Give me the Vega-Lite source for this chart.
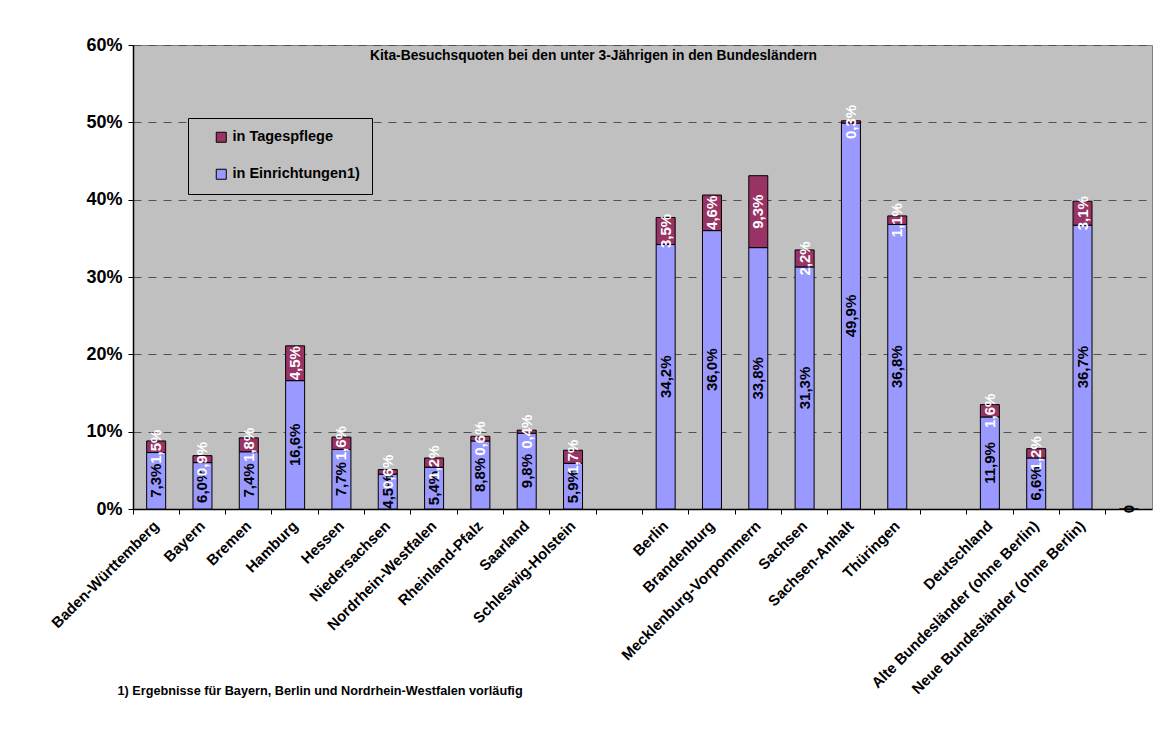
{
  "$schema": "https://vega.github.io/schema/vega-lite/v6.json",
  "width": 1019,
  "height": 464,
  "autosize": {"type": "none"},
  "padding": {"left": 133, "top": 45, "right": 19, "bottom": 220},
  "background": "white",
  "config": {
    "locale": {"number": {"decimal": ",", "thousands": ".", "grouping": [3], "currency": ["", " €"]}},
    "view": {"fill": "#C0C0C0", "stroke": "#808080", "strokeWidth": 1},
    "font": "Liberation Sans"
  },
  "title": {
    "text": "Kita-Besuchsquoten bei den unter 3-Jährigen in den Bundesländern",
    "anchor": "middle",
    "frame": "group",
    "offset": -38,
    "dx": -49,
    "font": "Liberation Sans",
    "fontSize": 13.8,
    "fontWeight": "bold",
    "color": "black",
    "baseline": "alphabetic"
  },
  "data": {
    "values": [
      {"land": "Baden-Württemberg", "typ": "in Einrichtungen1)", "wert": 0.073},
      {"land": "Baden-Württemberg", "typ": "in Tagespflege", "wert": 0.015},
      {"land": "Bayern", "typ": "in Einrichtungen1)", "wert": 0.060},
      {"land": "Bayern", "typ": "in Tagespflege", "wert": 0.009},
      {"land": "Bremen", "typ": "in Einrichtungen1)", "wert": 0.074},
      {"land": "Bremen", "typ": "in Tagespflege", "wert": 0.018},
      {"land": "Hamburg", "typ": "in Einrichtungen1)", "wert": 0.166},
      {"land": "Hamburg", "typ": "in Tagespflege", "wert": 0.045},
      {"land": "Hessen", "typ": "in Einrichtungen1)", "wert": 0.077},
      {"land": "Hessen", "typ": "in Tagespflege", "wert": 0.016},
      {"land": "Niedersachsen", "typ": "in Einrichtungen1)", "wert": 0.045},
      {"land": "Niedersachsen", "typ": "in Tagespflege", "wert": 0.006},
      {"land": "Nordrhein-Westfalen", "typ": "in Einrichtungen1)", "wert": 0.054},
      {"land": "Nordrhein-Westfalen", "typ": "in Tagespflege", "wert": 0.012},
      {"land": "Rheinland-Pfalz", "typ": "in Einrichtungen1)", "wert": 0.088},
      {"land": "Rheinland-Pfalz", "typ": "in Tagespflege", "wert": 0.006},
      {"land": "Saarland", "typ": "in Einrichtungen1)", "wert": 0.098},
      {"land": "Saarland", "typ": "in Tagespflege", "wert": 0.004},
      {"land": "Schleswig-Holstein", "typ": "in Einrichtungen1)", "wert": 0.059},
      {"land": "Schleswig-Holstein", "typ": "in Tagespflege", "wert": 0.017},
      {"land": "Berlin", "typ": "in Einrichtungen1)", "wert": 0.342},
      {"land": "Berlin", "typ": "in Tagespflege", "wert": 0.035},
      {"land": "Brandenburg", "typ": "in Einrichtungen1)", "wert": 0.360},
      {"land": "Brandenburg", "typ": "in Tagespflege", "wert": 0.046},
      {"land": "Mecklenburg-Vorpommern", "typ": "in Einrichtungen1)", "wert": 0.338},
      {"land": "Mecklenburg-Vorpommern", "typ": "in Tagespflege", "wert": 0.093},
      {"land": "Sachsen", "typ": "in Einrichtungen1)", "wert": 0.313},
      {"land": "Sachsen", "typ": "in Tagespflege", "wert": 0.022},
      {"land": "Sachsen-Anhalt", "typ": "in Einrichtungen1)", "wert": 0.499},
      {"land": "Sachsen-Anhalt", "typ": "in Tagespflege", "wert": 0.003},
      {"land": "Thüringen", "typ": "in Einrichtungen1)", "wert": 0.368},
      {"land": "Thüringen", "typ": "in Tagespflege", "wert": 0.011},
      {"land": "Deutschland", "typ": "in Einrichtungen1)", "wert": 0.119},
      {"land": "Deutschland", "typ": "in Tagespflege", "wert": 0.016},
      {"land": "Alte Bundesländer (ohne Berlin)", "typ": "in Einrichtungen1)", "wert": 0.066},
      {"land": "Alte Bundesländer (ohne Berlin)", "typ": "in Tagespflege", "wert": 0.012},
      {"land": "Neue Bundesländer (ohne Berlin)", "typ": "in Einrichtungen1)", "wert": 0.367},
      {"land": "Neue Bundesländer (ohne Berlin)", "typ": "in Tagespflege", "wert": 0.031},
      {"land": "   ", "typ": "in Einrichtungen1)", "wert": 0}
    ]
  },
  "transform": [
    {"stack": "wert", "groupby": ["land"], "sort": [{"field": "typ", "order": "ascending"}], "as": ["y0", "y1"]},
    {"calculate": "(datum.y0 + datum.y1) / 2", "as": "ymid"}
  ],
  "encoding": {
    "x": {
      "field": "land",
      "type": "nominal",
      "scale": {
        "domain": ["Baden-Württemberg", "Bayern", "Bremen", "Hamburg", "Hessen", "Niedersachsen", "Nordrhein-Westfalen", "Rheinland-Pfalz", "Saarland", "Schleswig-Holstein", " ", "Berlin", "Brandenburg", "Mecklenburg-Vorpommern", "Sachsen", "Sachsen-Anhalt", "Thüringen", "  ", "Deutschland", "Alte Bundesländer (ohne Berlin)", "Neue Bundesländer (ohne Berlin)", "   "],
        "paddingInner": 0,
        "paddingOuter": 0
      },
      "title": "1) Ergebnisse für Bayern, Berlin und Nordrhein-Westfalen vorläufig",
      "axis": {
        "bandPosition": 0,
        "labelAngle": -45,
        "labelAlign": "right",
        "labelBaseline": "middle",
        "labelFont": "Liberation Sans",
        "labelFontWeight": "bold",
        "labelFontSize": 15,
        "labelColor": "black",
        "labelPadding": 9,
        "labelLimit": 400,
        "labelOverlap": false,
        "labelBound": false,
        "tickColor": "black",
        "tickSize": 5,
        "domainColor": "black",
        "domainWidth": 1.5,
        "grid": false,
        "titleFont": "Liberation Sans",
        "titleFontSize": 12.7,
        "titleFontWeight": "bold",
        "titleColor": "black",
        "titleAnchor": "start",
        "titleAlign": "left",
        "titleBaseline": "middle",
        "titleX": -16,
        "titleY": 181
      }
    }
  },
  "layer": [
    {
      "mark": {"type": "bar", "size": 19, "stroke": "black", "strokeWidth": 1},
      "encoding": {
        "y": {
          "field": "y1",
          "type": "quantitative",
          "scale": {"domain": [0, 0.6], "nice": false},
          "title": null,
          "axis": {
            "format": ".0%",
            "values": [0, 0.1, 0.2, 0.3, 0.4, 0.5, 0.6],
            "grid": true,
            "gridColor": "#505050",
            "gridDash": [8, 7],
            "gridWidth": 1,
            "domainColor": "black",
            "domainWidth": 1.5,
            "tickColor": "black",
            "tickSize": 5,
            "labelFont": "Liberation Sans",
            "labelFontSize": 18,
            "labelFontWeight": "bold",
            "labelColor": "black",
            "labelPadding": 6
          }
        },
        "y2": {"field": "y0"},
        "color": {
          "field": "typ",
          "type": "nominal",
          "scale": {"domain": ["in Tagespflege", "in Einrichtungen1)"], "range": ["#993366", "#9999FF"]},
          "legend": {
            "orient": "none",
            "legendX": 55,
            "legendY": 73,
            "title": null,
            "fillColor": "#C0C0C0",
            "strokeColor": "black",
            "padding": 12,
            "symbolType": "square",
            "symbolSize": 100,
            "symbolStrokeColor": "black",
            "symbolStrokeWidth": 1,
            "symbolOffset": 14,
            "labelFont": "Liberation Sans",
            "labelFontWeight": "bold",
            "labelFontSize": 14.5,
            "labelColor": "black",
            "labelOffset": 4,
            "rowPadding": 21
          }
        }
      }
    },
    {
      "mark": {"type": "text", "angle": 270, "font": "Liberation Sans", "fontWeight": "bold", "fontSize": 15, "align": "center", "baseline": "middle"},
      "encoding": {
        "y": {"field": "ymid", "type": "quantitative"},
        "text": {"condition": {"test": "datum.wert == 0", "value": "0"}, "field": "wert", "type": "quantitative", "format": ".1%"},
        "color": {"condition": {"test": "datum.typ == 'in Tagespflege'", "value": "white"}, "value": "black"}
      }
    }
  ]
}
